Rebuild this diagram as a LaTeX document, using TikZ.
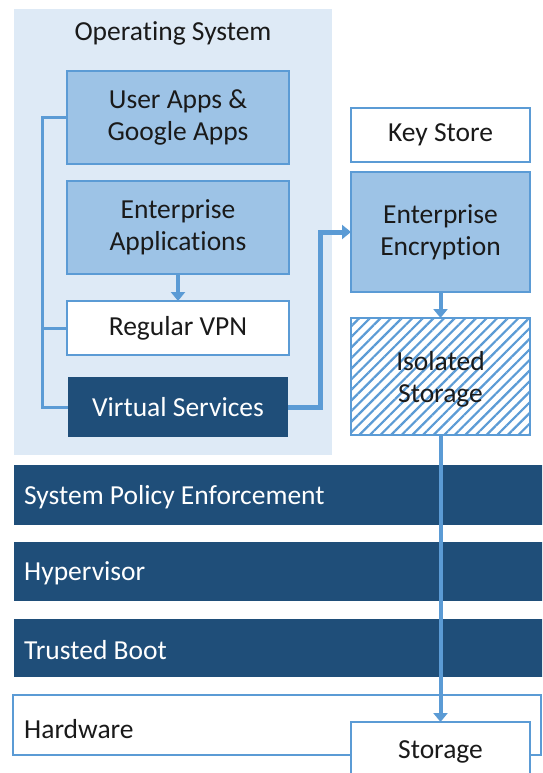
\documentclass[tikz,border=0pt]{standalone}
\usepackage{fontspec}
\setmainfont{Carlito}[Ligatures={NoCommon}]
\usetikzlibrary{arrows.meta,patterns.meta}
\definecolor{osbg}{HTML}{DEEAF6}
\definecolor{midblue}{HTML}{9DC3E6}
\definecolor{lineblue}{HTML}{5B9BD5}
\definecolor{darkblue}{HTML}{1F4E79}
\definecolor{txt}{HTML}{1A1A1A}
\tikzset{
  lbl/.style={font=\fontsize{27.5}{32}\selectfont},
  box/.style={draw=lineblue, line width=2.5pt, rectangle, inner sep=0pt, outer sep=0pt, align=center, lbl, text=txt},
  midbox/.style={box, fill=midblue},
  whitebox/.style={box, fill=white},
  darkbox/.style={rectangle, fill=darkblue, inner sep=0pt, outer sep=0pt, align=center, lbl, text=white},
  barlabel/.style={anchor=west, inner sep=0pt, lbl, text=white},
  conn/.style={draw=lineblue, line width=3pt},
  arr/.style={draw=lineblue, line width=4pt, -{Triangle[width=14pt,length=9pt]}},
}
\begin{document}
\begin{tikzpicture}[x=1pt,y=-1pt]
\useasboundingbox (0,0) rectangle (542,773);
\clip (0,0) rectangle (542,773);
% Operating system background
\node[rectangle, fill=osbg, minimum width=318pt, minimum height=446pt, inner sep=0pt, outer sep=0pt] (os) at (173,232) {};
\node[inner sep=0pt, lbl, text=txt] (oslabel) at (173,33) {Operating System};
% OS inner boxes
\node[midbox, minimum width=222pt, minimum height=93pt] (userapps) at (178,117.5) {User Apps \&\\Google Apps};
\node[midbox, minimum width=222pt, minimum height=93pt] (entapps) at (178,227.5) {Enterprise\\Applications};
\node[whitebox, minimum width=222pt, minimum height=54pt] (vpn) at (178,328) {Regular VPN};
\node[darkbox, minimum width=220pt, minimum height=60pt] (virt) at (178,407) {Virtual Services};
% right column
\node[whitebox, minimum width=179pt, minimum height=54pt] (keystore) at (440.5,135) {Key Store};
\node[midbox, minimum width=179pt, minimum height=120pt] (encrypt) at (440.5,232) {Enterprise\\Encryption};
\node[box, fill=white, pattern={Lines[angle=45,distance=7.5pt,line width=2.2pt]}, pattern color=lineblue, minimum width=179pt, minimum height=117pt] (isolated) at (440.5,376.5) {};
\node[inner sep=0pt, align=center, lbl, text=txt] (isolabel) at (440.5,379) {Isolated\\Storage};
% layer bars
\node[darkbox, minimum width=532pt, minimum height=60pt] (spe) at (280,495) {};
\node[barlabel] (spelabel) at (24,497) {System Policy Enforcement};
\node[darkbox, minimum width=532pt, minimum height=59pt] (hyper) at (280,571.5) {};
\node[barlabel] (hyperlabel) at (24,573.5) {Hypervisor};
\node[darkbox, minimum width=532pt, minimum height=58pt] (trusted) at (280,648) {};
\node[barlabel] (trustedlabel) at (24,650) {Trusted Boot};
\node[whitebox, minimum width=528pt, minimum height=60pt] (hardware) at (277,725) {};
\node[anchor=west, inner sep=0pt, lbl, text=txt] (hwlabel) at (24,729) {Hardware};
\node[whitebox, minimum width=179pt, minimum height=80pt, anchor=north] (storage) at (440.5,722) {};
\node[inner sep=0pt, lbl, text=txt] (storlabel) at (440.5,752) {Storage};
% connectors
\coordinate (bx) at (42,0);
\coordinate (vx) at (320,0);
\draw[conn] (userapps.west) -- (userapps.west -| bx) -- (virt.west -| bx) -- (virt.west);
\draw[conn] (vpn.west) -- (vpn.west -| bx);
\draw[arr] (entapps.south) -- (vpn.north);
\draw[arr, line width=5pt] (virt.east) -- (virt.east -| vx) -- (encrypt.west -| vx) -- (encrypt.west);
\draw[arr] (encrypt.south) -- (isolated.north);
\draw[arr] (isolated.south) -- (storage.north);
\end{tikzpicture}
\end{document}
